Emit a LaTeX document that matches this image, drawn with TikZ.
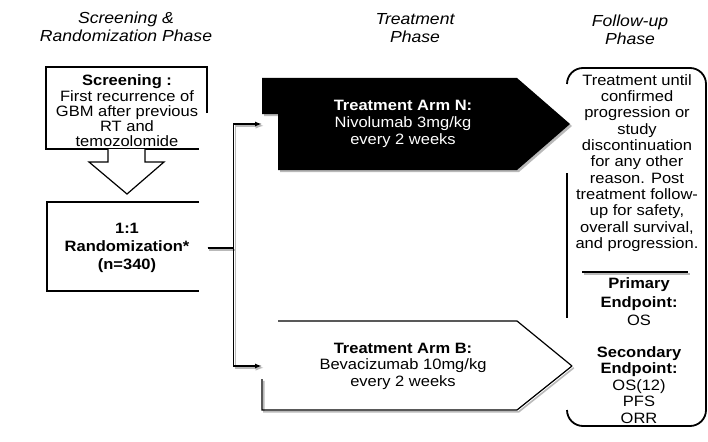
\documentclass[tikz,border=0pt]{standalone}
\usepackage{fontspec}
\setmainfont{Liberation Sans}[FakeStretch=1.1]
\usetikzlibrary{arrows,positioning}

\tikzset{
  phase/.style={align=center,font=\fontsize{16}{18.5}\selectfont\itshape},
  body/.style={align=center,inner sep=0pt,font=\fontsize{15}{16.5}\selectfont},
  shade/.style={preaction={draw=gray!55,line width=1.6pt,transform canvas={shift={(1.8pt,-1.8pt)}}}},
}

\begin{document}
\begin{tikzpicture}[x=1pt,y=-1pt,line width=1.2pt]
	\useasboundingbox (0,0) rectangle (708,441);

	\node[phase] (p1) at (126,27) {Screening \&\\Randomization Phase};
	\node[phase] (p2) at (415,28) {Treatment\\Phase};
	\node[phase] (p3) at (630,30) {Follow-up\\Phase};

	\draw (207,113) -- (207,67) -- (46,67) -- (46,149) -- (199,149);
	\node[body,font=\fontsize{15}{15.3}\selectfont] (scr) at (127,111) {\textbf{Screening :}\\First recurrence of\\GBM after previous\\RT and\\temozolomide};
	\draw[fill=white] (108,149) -- (108,162) -- (89,162) -- (127,194) -- (164,162) -- (145,162) -- (145,149);
	\draw (199,202) -- (47,202) -- (47,291) -- (199,291);
	\node[body,font=\fontsize{15}{18}\selectfont\bfseries,minimum width=160] (rand) at (127,248) {1:1\\Randomization*\\(n=340)};

	\fill[black,preaction={fill=gray!55,transform canvas={shift={(2pt,-2pt)}}}] (278,170) -- (278,114) -- (262,114) -- (262,78) -- (517,78) -- (570,124) -- (517,170) -- cycle;
	\node[body,text=white,font=\fontsize{15}{17}\selectfont,minimum width=282] (armN) at (403,124) {\textbf{Treatment Arm N:}\\Nivolumab 3mg/kg\\every 2 weeks};

	\draw[shade] (572,366) -- (517,410) -- (262,410) -- (262,379);
	\draw (278,321) -- (517,321) -- (572,366);
	\node[body,minimum width=282] (armB) at (403,366) {\textbf{Treatment Arm B:}\\Bevacizumab 10mg/kg\\every 2 weeks};

	\draw[shade,-latex] (rand.east) -- ++(26,0) |- (armN.west);
	\draw[shade,-latex] (rand.east) -- ++(26,0) |- (armB.west);

	\draw[line width=1.8pt,rounded corners=16] (567,84) -- (567,68) -- (706,68) -- (706,426) -- (567,426) -- (567,410);
	\draw[line width=1.8pt] (567,173) -- (567,318);
	\node[body,font=\fontsize{15}{16.3}\selectfont] (fu) at (637,163) {Treatment until\\confirmed\\progression or\\study\\discontinuation\\for any other\\reason. Post\\treatment follow-\\up for safety,\\overall survival,\\and progression.};
	\draw[shade,line width=2.2pt] (582,272) -- (688,272);
	\node[body,font=\fontsize{15}{18.5}\selectfont] (prim) at (639,302) {\textbf{Primary}\\\textbf{Endpoint:}\\OS};
	\node[body,font=\fontsize{15}{16.5}\selectfont] (sec) at (639,385) {\textbf{Secondary}\\\textbf{Endpoint:}\\OS(12)\\PFS\\ORR};
\end{tikzpicture}
\end{document}
